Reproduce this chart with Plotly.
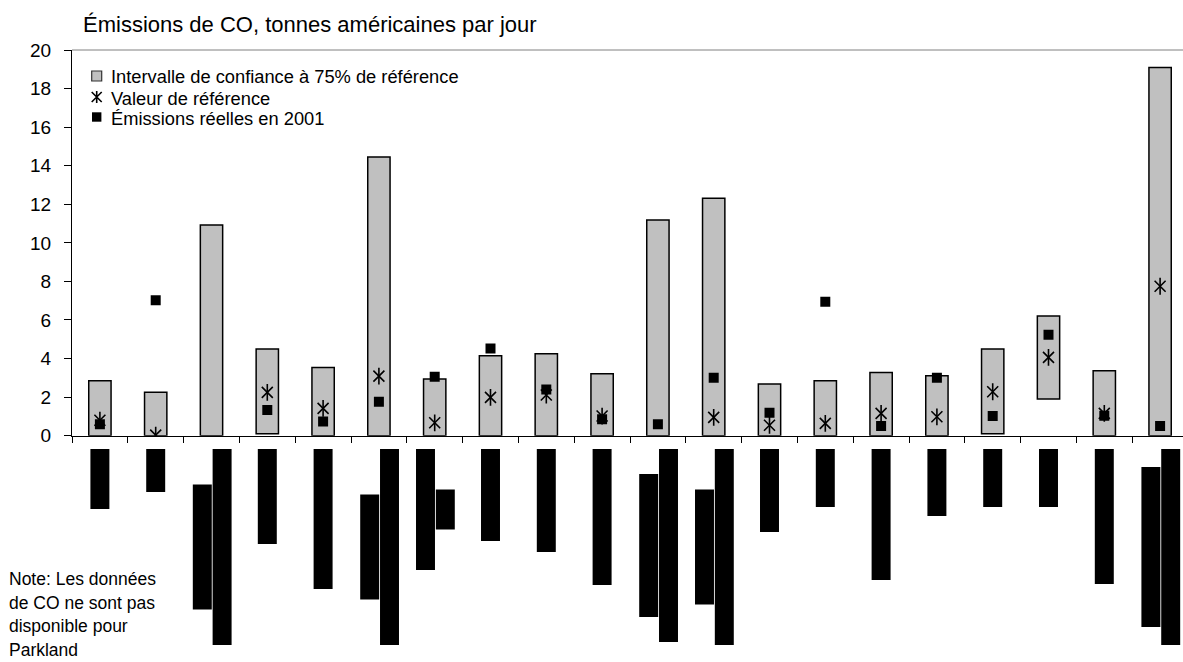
import plotly.graph_objects as go

# Monitoring sites (names not legible; indexed 1..20)
sites = list(range(1, 21))

# 75% confidence interval of the reference value (tons/day)
ci_low = [0, 0, 0, 0.1, 0, 0, 0, 0, 0, 0, 0, 0, 0, 0, 0, 0, 0.1, 1.9, 0, 0]
ci_high = [2.85, 2.25, 10.93, 4.49, 3.54, 14.45, 2.94, 4.14, 4.25, 3.21,
           11.19, 12.31, 2.68, 2.85, 3.28, 3.11, 4.49, 6.21, 3.37, 19.09]

# Reference value (None where not shown)
reference = [0.8, 0.03, None, 2.25, 1.42, 3.09, 0.67, 1.99, 2.11, 1.02,
             None, 0.95, 0.54, 0.64, 1.16, 0.98, 2.28, 4.06, 1.16, 7.75]

# Actual 2001 emissions (None where not shown)
actual_2001 = [0.59, 7.03, None, 1.33, 0.73, 1.76, 3.06, 4.52, 2.40, 0.85,
               0.59, 3.0, 1.19, 6.94, 0.50, 3.0, 1.02, 5.23, 1.04, 0.50]

# Site-name label blocks below the axis: length of each text line (px)
label_line1 = [60, 43, 125, 95, 140, 105, 121, 92, 103, 136,
               143, 115, 83, 58, 131, 67, 58, 58, 135, 160]
label_line2 = [0, 0, 196, 0, 0, 196, 40, 0, 0, 0,
               193, 196, 0, 0, 0, 0, 0, 0, 0, 196]

legend_names = ["Intervalle de confiance à 75% de référence",
                "Valeur de référence",
                "Émissions réelles en 2001"]

x = [i for i in range(len(sites))]
FONT = "Liberation Sans, Arial, sans-serif"

W, H = 1183, 662
L, T, B = 72, 50, 17
ph = H - T - B
pw = W - L
y0_px = 435.7
lab_px = 449


def px_x(px):
    return (px - L) / pw


def px_y(py):
    return (H - B - py) / ph


fig = go.Figure()

fig.add_trace(go.Bar(
    x=x, y=[h - l for h, l in zip(ci_high, ci_low)], base=ci_low,
    width=0.4, marker=dict(color="#C0C0C0", line=dict(color="#000000", width=1.5)),
    name=legend_names[0], yaxis="y",
))

fig.add_trace(go.Scatter(
    x=x, y=reference, mode="markers", name=legend_names[1],
    marker=dict(symbol="x-thin-open", size=11, color="#000000",
                line=dict(color="#000000", width=1.6)),
))
fig.add_trace(go.Scatter(
    x=x, y=reference, mode="markers", name=legend_names[1],
    marker=dict(symbol="line-ns-open", size=12, color="#000000",
                line=dict(color="#000000", width=1.6)),
    hoverinfo="skip",
))

fig.add_trace(go.Scatter(
    x=x, y=actual_2001, mode="markers", name=legend_names[2],
    marker=dict(symbol="square", size=10, color="#000000"),
))

# Label blocks: single-line labels centred; two-line labels side by side,
# centred on the longer line
b1_base, b1_len, b1_off, b2_base, b2_len, b2_off, b2_x = [], [], [], [], [], [], []
for i, (l1, l2) in enumerate(zip(label_line1, label_line2)):
    if l2 == 0:
        b1_base.append(0)
        b1_len.append(-l1)
        b1_off.append(-0.17)
    else:
        longest = max(l1, l2)
        b1_base.append(-(longest - l1) / 2)
        b1_len.append(-l1)
        b1_off.append(-0.335)
        b2_x.append(i)
        b2_base.append(-(longest - l2) / 2)
        b2_len.append(-l2)
        b2_off.append(0.02)

fig.add_trace(go.Bar(
    x=x, y=b1_len, base=b1_base, offset=b1_off, width=0.34,
    marker=dict(color="#000000", line=dict(width=0)),
    yaxis="y2", hoverinfo="skip",
))
fig.add_trace(go.Bar(
    x=b2_x, y=b2_len, base=b2_base, offset=b2_off, width=0.34,
    marker=dict(color="#000000", line=dict(width=0)),
    yaxis="y2", hoverinfo="skip",
))

fig.update_layout(
    width=W, height=H,
    margin=dict(l=L, r=0, t=T, b=B, pad=0),
    paper_bgcolor="white", plot_bgcolor="white",
    barmode="overlay", showlegend=False,
    font=dict(family=FONT, size=16, color="#000000"),
    xaxis=dict(
        range=[-0.5, -0.5 + pw / 55.8], showgrid=False, zeroline=False,
        showline=True, linecolor="#000000", linewidth=1,
        tickmode="array", tickvals=[k - 0.5 for k in range(21)],
        ticks="outside", ticklen=6, tickcolor="#000000", tickwidth=1,
        showticklabels=False, anchor="y",
    ),
    yaxis=dict(
        domain=[px_y(y0_px), 1], range=[0, 20],
        tickmode="linear", tick0=0, dtick=2,
        showgrid=False, zeroline=False,
        showline=True, linecolor="#000000", linewidth=1,
        ticks="outside", ticklen=7, tickcolor="#000000", tickwidth=1,
        tickfont=dict(family=FONT, size=19), ticklabelstandoff=9,
    ),
    yaxis2=dict(
        domain=[0, px_y(lab_px)], range=[-196, 0],
        visible=False, anchor="x",
    ),
)

# Plot-area top border
fig.add_shape(type="line", xref="paper", yref="y domain",
              x0=0, x1=1, y0=1, y1=1, line=dict(color="#808080", width=1))

# Legend (compact Excel-style rows)
sym_x = 96.7
rows_y = [76, 97, 117]
fig.add_shape(type="rect", xref="paper", yref="paper",
              x0=px_x(sym_x - 5), x1=px_x(sym_x + 5),
              y0=px_y(rows_y[0] + 5), y1=px_y(rows_y[0] - 5),
              fillcolor="#C0C0C0", line=dict(color="#333333", width=1.2))
a = 5
cx, cy = sym_x, rows_y[1]
star = (f"M {px_x(cx - a)},{px_y(cy - a)} L {px_x(cx + a)},{px_y(cy + a)} "
        f"M {px_x(cx - a)},{px_y(cy + a)} L {px_x(cx + a)},{px_y(cy - a)} "
        f"M {px_x(cx)},{px_y(cy - a - 1)} L {px_x(cx)},{px_y(cy + a + 1)}")
fig.add_shape(type="path", xref="paper", yref="paper", path=star,
              line=dict(color="#000000", width=1.6))
fig.add_shape(type="rect", xref="paper", yref="paper",
              x0=px_x(sym_x - 4.7), x1=px_x(sym_x + 4.7),
              y0=px_y(rows_y[2] + 4.7), y1=px_y(rows_y[2] - 4.7),
              fillcolor="#000000", line=dict(width=0))
for name, ry in zip(legend_names, rows_y):
    fig.add_annotation(
        text=name, xref="paper", yref="paper", x=px_x(109), y=px_y(ry + 1),
        xanchor="left", yanchor="middle", showarrow=False,
        font=dict(family=FONT, size=18.3),
    )

fig.add_annotation(
    text="Émissions de CO, tonnes américaines par jour",
    xref="paper", yref="paper", x=px_x(81), y=px_y(25),
    xanchor="left", yanchor="middle", showarrow=False,
    font=dict(family=FONT, size=22),
)

note_lines = ["Note: Les données", "de CO ne sont pas", "disponible pour", "Parkland"]
for k, line in enumerate(note_lines):
    fig.add_annotation(
        text=line, xref="paper", yref="paper",
        x=px_x(7), y=px_y(579 + 23.5 * k),
        xanchor="left", yanchor="middle", showarrow=False, align="left",
        font=dict(family=FONT, size=17.5),
    )

fig.write_html("out.html")
